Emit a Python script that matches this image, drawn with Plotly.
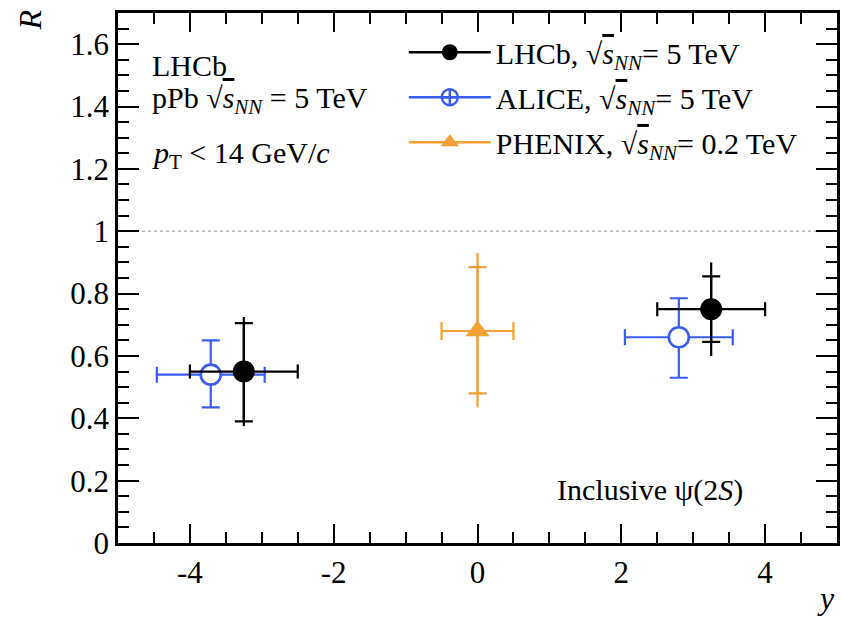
import numpy as np
import plotly.graph_objects as go

FONT = "Liberation Serif"

# LHCb inclusive psi(2S): rapidity bin centres, half widths, R values
lhcb_y = [-3.25, 3.25]
lhcb_dy = [0.75, 0.75]
lhcb_r = [0.55, 0.75]
lhcb_stat_up = [0.155, 0.105]
lhcb_stat_dn = [0.16, 0.105]
lhcb_tot_up = [0.175, 0.15]
lhcb_tot_dn = [0.175, 0.15]

# ALICE
alice_y = [-3.71, 2.80]
alice_dy = [0.75, 0.75]
alice_r = [0.54, 0.66]
alice_err_up = [0.11, 0.125]
alice_err_dn = [0.105, 0.13]

# PHENIX
phenix_y = [0.0]
phenix_dy = [0.5]
phenix_r = [0.68]
phenix_stat_up = [0.205]
phenix_stat_dn = [0.20]
phenix_tot_up = [0.25]
phenix_tot_dn = [0.245]

unity = 1.0

x_tick_vals = [-4, -2, 0, 2, 4]
x_tick_text = ["-4", "-2", "0", "2", "4"]

BLACK = "#000000"
BLUE = "#3a5cf4"
ORANGE = "#f3a035"

SQRTS = "√<span style='text-decoration:overline'><i>s</i></span><sub><i>NN</i></sub>"

fig = go.Figure()


def ebar(arr, arrm, color, width):
    return dict(type="data", symmetric=False, array=arr, arrayminus=arrm,
                color=color, thickness=2.2, width=width)


# total uncertainties (uncapped) drawn underneath
for xs, ys, up, dn, col in [(lhcb_y, lhcb_r, lhcb_tot_up, lhcb_tot_dn, BLACK),
                            (phenix_y, phenix_r, phenix_tot_up, phenix_tot_dn, ORANGE)]:
    fig.add_trace(go.Scatter(x=xs, y=ys, mode="markers", marker=dict(size=1, opacity=0),
                             error_y=ebar(up, dn, col, 0), showlegend=False, hoverinfo="skip"))

fig.add_trace(go.Scatter(
    x=phenix_y, y=phenix_r, mode="markers",
    marker=dict(symbol="triangle-up", size=21, color=ORANGE),
    error_y=ebar(phenix_stat_up, phenix_stat_dn, ORANGE, 9),
    error_x=dict(type="data", array=phenix_dy, color=ORANGE, thickness=2.2, width=9),
    showlegend=False))

fig.add_trace(go.Scatter(
    x=alice_y, y=alice_r, mode="markers",
    marker=dict(symbol="circle", size=20, color="white", line=dict(color=BLUE, width=2.6)),
    error_y=ebar(alice_err_up, alice_err_dn, BLUE, 9),
    error_x=dict(type="data", array=alice_dy, color=BLUE, thickness=2.2, width=8),
    showlegend=False))

fig.add_trace(go.Scatter(
    x=lhcb_y, y=lhcb_r, mode="markers",
    marker=dict(symbol="circle", size=22, color=BLACK),
    error_y=ebar(lhcb_stat_up, lhcb_stat_dn, BLACK, 9),
    error_x=dict(type="data", array=lhcb_dy, color=BLACK, thickness=2.2, width=7),
    showlegend=False))

# legend entries
legend_items = [
    ("LHCb, " + SQRTS + "= 5 TeV", dict(symbol="circle", size=20, color=BLACK), BLACK),
    ("ALICE, " + SQRTS + "= 5 TeV",
     dict(symbol="circle-cross-open", size=18, color=BLUE, line=dict(width=2.4)), BLUE),
    ("PHENIX, " + SQRTS + "= 0.2 TeV", dict(symbol="triangle-up", size=20, color=ORANGE), ORANGE),
]
for i, (name, mk, col) in enumerate(legend_items):
    fig.add_trace(go.Scatter(x=[None], y=[None], mode="lines+markers", name=name,
                             marker=mk, line=dict(color=col, width=2.4),
                             legendgroup=f"g{i}"))

fig.add_shape(type="line", xref="paper", x0=0, x1=1, yref="y", y0=unity, y1=unity,
              line=dict(color="#b8b8b8", width=1.5, dash="dot"), layer="below")

axis_common = dict(showline=True, linecolor="black", linewidth=2.5, mirror="allticks",
                   ticks="inside", tickcolor="black", tickwidth=2.2,
                   showgrid=False, zeroline=False,
                   tickfont=dict(family=FONT, size=31, color="black"))

fig.update_xaxes(range=[-5, 5], tickmode="array", tickvals=x_tick_vals, ticktext=x_tick_text,
                 ticklen=19,
                 minor=dict(ticks="inside", ticklen=11, tickwidth=2.2, tickcolor="black",
                            tickmode="array", tickvals=list(np.arange(-4.5, 5.0, 0.5))),
                 **axis_common)
fig.update_yaxes(range=[0, 1.7], dtick=0.2, tick0=0, ticklen=21,
                 minor=dict(ticks="inside", ticklen=11, tickwidth=2.2, tickcolor="black",
                            dtick=0.05),
                 **axis_common)

txt = dict(family=FONT, size=30, color="black")
anns = [
    dict(text="LHCb", x=0.045, y=0.90),
    dict(text="pPb " + SQRTS + " = 5 TeV", x=0.045, y=0.835),
    dict(text="<i>p</i><sub>T</sub> &lt; 14 GeV/<i>c</i>", x=0.045, y=0.732),
    dict(text="Inclusive ψ(2<i>S</i>)", x=0.608, y=0.10),
]
for a in anns:
    fig.add_annotation(xref="paper", yref="paper", xanchor="left", yanchor="middle",
                       showarrow=False, font=txt, **a)

fig.add_annotation(text="<i>R</i>", xref="paper", yref="paper", x=-0.122, y=1.01,
                   xanchor="center", yanchor="top", textangle=-90, showarrow=False,
                   font=dict(family=FONT, size=32, color="black"))
fig.add_annotation(text="<i>y</i>", xref="paper", yref="paper", x=1.0, y=-0.1415,
                   xanchor="right", yanchor="bottom", showarrow=False,
                   font=dict(family=FONT, size=32, color="black"))

fig.update_layout(
    width=842, height=618,
    font=dict(family=FONT, color="black"),
    margin=dict(l=118, r=2, t=13, b=75),
    paper_bgcolor="white", plot_bgcolor="white",
    legend=dict(x=0.3975, y=0.975, xanchor="left", yanchor="top", bgcolor="rgba(0,0,0,0)",
                font=dict(family=FONT, size=30, color="black"), itemwidth=82,
                tracegroupgap=3),
)

fig.write_html("out.html")
